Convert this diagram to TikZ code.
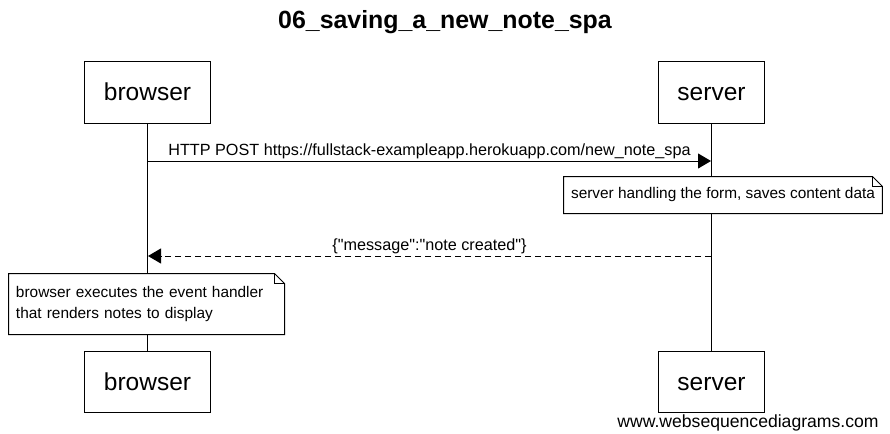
\documentclass[tikz,border=0pt]{standalone}
\usepackage{fontspec}
\setmainfont{Liberation Sans}
\newfontfamily\rawfont{Liberation Sans}
\usetikzlibrary{arrows.meta,positioning,calc}

\begin{document}
\begin{tikzpicture}[
    x=1pt, y=-1pt, line width=1pt,
    actor/.style={rectangle, draw, fill=white, inner xsep=19pt, inner ysep=0pt, minimum height=61pt, text height=19pt, text depth=2pt, font=\fontsize{24.5}{29}\selectfont},
    msg/.style={font=\rawfont\fontsize{16.2}{19}\selectfont, inner sep=2pt},
    notetext/.style={fill=white, font=\fontsize{15.4}{21}\selectfont, align=left, inner xsep=7pt},
    tip/.style={-{Triangle[length=13pt,width=15pt]}}
]
\useasboundingbox (0,0) rectangle (890,433);

% title
\node[font=\bfseries\fontsize{24.9}{30}\selectfont] (title) at (445,22) {06\_saving\_a\_new\_note\_spa};

% participants
\node[actor] (browserTop) at (147.5,92.5) {browser};
\node[actor] (serverTop) at (711.5,92.5) {server};
\node[actor] (browserBot) at (147.5,381.5) {browser};
\node[actor] (serverBot) at (711.5,381.5) {server};

\draw (browserTop) -- (browserBot);
\draw (serverTop) -- (serverBot);

% messages
\coordinate (b1) at (148,161);
\coordinate (s1) at (711,161);
\coordinate (b2) at (148,256);
\coordinate (s2) at (711,256);

\draw[tip] (b1) -- node[msg, above] (m1) {HTTP POST https://fullstack-exampleapp.herokuapp.com/new\_note\_spa} (s1);
\draw[tip, dash pattern=on 6pt off 4pt] (s2) -- node[msg, above] (m2) {\{"message":"note created"\}} (b2);

% notes
\node[notetext, minimum width=314pt, minimum height=36pt] (serverNote) at (723,195) {server handling the form, saves content data};
\draw (serverNote.north west) -- ($(serverNote.north east)+(-10,0)$) -- ($(serverNote.north east)+(0,10)$)
    -- (serverNote.south east) -- (serverNote.south west) -- cycle;
\draw ($(serverNote.north east)+(-10,0)$) |- ($(serverNote.north east)+(0,10)$);

\node[notetext, minimum width=275pt, minimum height=60pt, text width=261pt] (browserNote) at (146.5,304) {browser executes the event handler\\that renders notes to display};
\draw (browserNote.north west) -- ($(browserNote.north east)+(-10,0)$) -- ($(browserNote.north east)+(0,10)$)
    -- (browserNote.south east) -- (browserNote.south west) -- cycle;
\draw ($(browserNote.north east)+(-10,0)$) |- ($(browserNote.north east)+(0,10)$);

% footer
\node[font=\fontsize{17.6}{21}\selectfont] (footer) at (748,423) {www.websequencediagrams.com};

\end{tikzpicture}
\end{document}
